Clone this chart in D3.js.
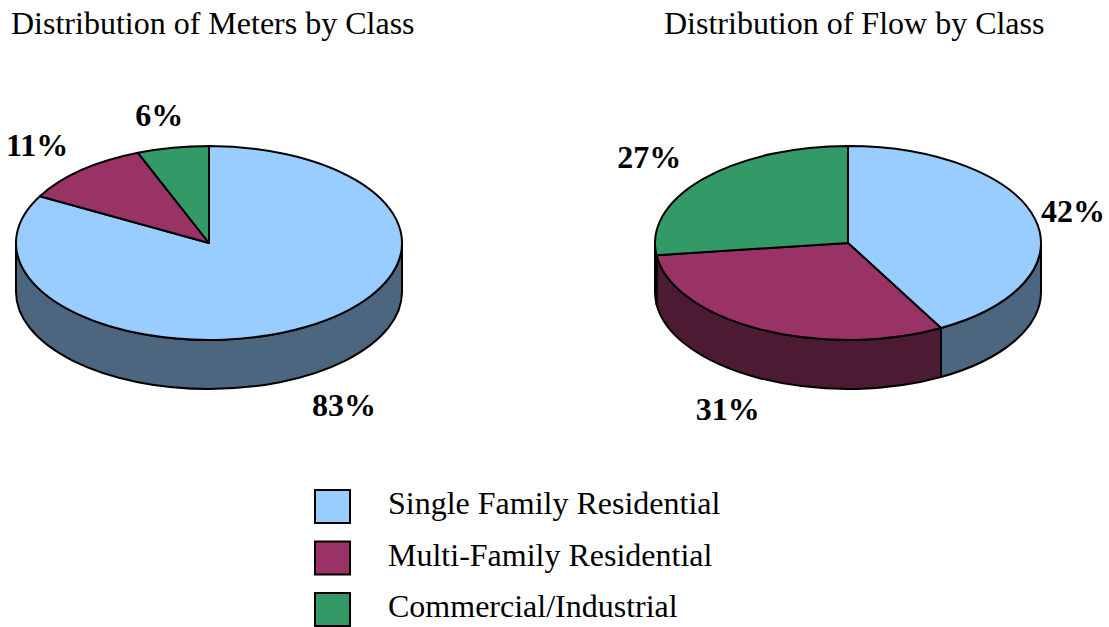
<!DOCTYPE html>
<html>
<head>
<meta charset="utf-8">
<script src="https://cdn.jsdelivr.net/npm/d3@7"></script>
<style>
  body { margin: 0; background: #fff; }
  text { font-family: "Liberation Serif", "Times New Roman", serif; }
</style>
</head>
<body>
<svg id="chart" width="1109" height="627"></svg>
<script>
// data
var classes = ["Single Family Residential", "Multi-Family Residential", "Commercial/Industrial"];
var meters = [83, 11, 6];
var flow = [42, 31, 27];
var titles = ["Distribution of Meters by Class", "Distribution of Flow by Class"];

var topColors = ["#99CCFF", "#993366", "#339966"];
var sideColors = ["#4D6680", "#4D1A33", "#1A4D33"];

var W = 1109;
var svg = d3.select("#chart");

var rx = 193, ry = 97, depth = 49;
var pies = [
  { title: titles[0], values: meters, cx: 209, cy: 243, tx: 11 },
  { title: titles[1], values: flow, cx: 848, cy: 243, tx: 664 }
];

var pie = d3.pie().sort(null).value(function (d) { return d; });

function pt(cx, cy, a, dy) {
  return [cx + rx * Math.sin(a), cy - ry * Math.cos(a) + (dy || 0)];
}

function sidePath(cx, cy, a0, a1) {
  var s = Math.max(a0, Math.PI / 2), e = Math.min(a1, 3 * Math.PI / 2);
  if (s >= e) return null;
  var p0 = pt(cx, cy, s), p1 = pt(cx, cy, e);
  var q1 = pt(cx, cy, e, depth), q0 = pt(cx, cy, s, depth);
  return "M" + p0 + "A" + rx + "," + ry + " 0 0 1 " + p1 +
    "L" + q1 + "A" + rx + "," + ry + " 0 0 0 " + q0 + "Z";
}

pies.forEach(function (p) {
  var g = svg.append("g");
  var arcs = pie(p.values);

  g.append("text")
    .attr("x", p.tx).attr("y", 34)
    .attr("font-size", 32)
    .text(p.title);

  // side walls
  arcs.forEach(function (d, i) {
    var path = sidePath(p.cx, p.cy, d.startAngle, d.endAngle);
    if (!path) return;
    g.append("path")
      .attr("d", path)
      .attr("fill", sideColors[i])
      .attr("stroke", "#000")
      .attr("stroke-width", 2)
      .attr("stroke-linejoin", "round");
  });

  // top faces: circular arcs squashed into an ellipse
  var arc = d3.arc().innerRadius(0).outerRadius(rx);
  g.append("g")
    .attr("transform", "translate(" + p.cx + "," + p.cy + ") scale(1," + (ry / rx) + ")")
    .selectAll("path")
    .data(arcs)
    .join("path")
      .attr("d", arc)
      .attr("fill", function (d, i) { return topColors[i]; })
      .attr("stroke", "#000")
      .attr("stroke-width", 2)
      .attr("stroke-linejoin", "round")
      .attr("vector-effect", "non-scaling-stroke");

  // percentage labels, kept inside the picture
  g.selectAll("text.lbl")
    .data(arcs)
    .join("text")
      .attr("class", "lbl")
      .attr("y", function (d) {
        var c = Math.cos((d.startAngle + d.endAngle) / 2);
        return p.cy - (ry + 34) * c + (c < 0 ? depth : 0);
      })
      .attr("dy", "0.35em")
      .attr("text-anchor", "middle")
      .attr("font-size", 32)
      .attr("font-weight", "bold")
      .text(function (d) { return d.data + "%"; })
      .attr("x", function (d) {
        var a = (d.startAngle + d.endAngle) / 2;
        var half = this.getComputedTextLength() / 2;
        var x = p.cx + (rx + 72) * Math.sin(a);
        return Math.max(half + 6, Math.min(W - half - 4, x));
      });
});

// legend
var ly = d3.scalePoint().domain(classes).range([490, 593]);
var legend = svg.append("g").selectAll("g")
  .data(classes)
  .join("g")
    .attr("transform", function (d) { return "translate(315," + ly(d) + ")"; });

legend.append("rect")
  .attr("width", 35).attr("height", 33)
  .attr("fill", function (d, i) { return topColors[i]; })
  .attr("stroke", "#000")
  .attr("stroke-width", 2);

legend.append("text")
  .attr("x", 73).attr("y", 24)
  .attr("font-size", 32)
  .text(function (d) { return d; });
</script>
</body>
</html>
